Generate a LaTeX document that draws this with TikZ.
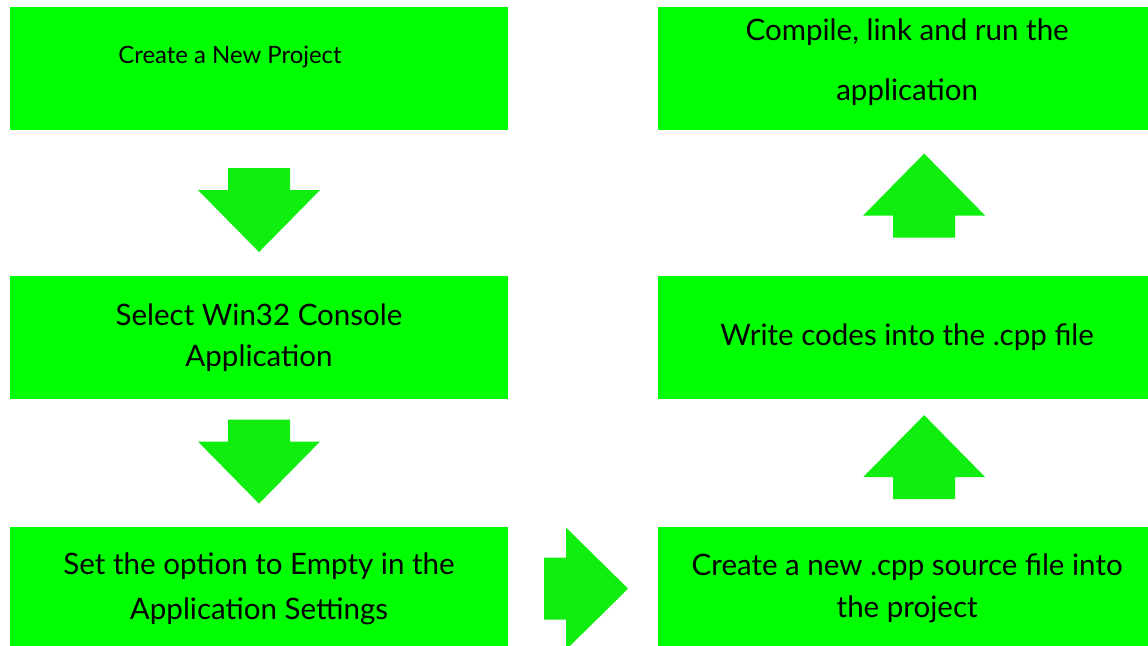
\documentclass[tikz,border=0pt]{standalone}
\usepackage{fontspec}
\setmainfont{Lato}
\usetikzlibrary{positioning, calc}
\definecolor{boxgreen}{RGB}{0,255,0}
\definecolor{arrowgreen}{RGB}{16,238,16}
\tikzset{
    stepbox/.style={rectangle, fill=boxgreen, minimum width=12.45cm, minimum height=3.075cm,
        align=center, font=\fontsize{21}{29}\selectfont}, % green step boxes
    % fat block arrow, pointing right, 84 x 123 units
    fatarrow/.pic={
        \fill[arrowgreen] (-42,-31) -- (-20,-31) -- (-20,-61) -- (42,0)
            -- (-20,61) -- (-20,31) -- (-42,31) -- cycle;
    },
}

\begin{document}
\begin{tikzpicture}[x=0.025cm, y=-0.025cm, on grid]
    \clip (0,0) rectangle (1148,645);

    % left column, top to bottom
    \node[stepbox] (proj) at (259,68.5) {};
    \node[stepbox] (win) [below=6.725cm of proj] {Select Win32 Console\\Application};
    \node[stepbox] (empty) [below=6.275cm of win] {Set the option to Empty in the\\[3pt]Application Settings};
    % right column, bottom to top
    \node[stepbox] (newcpp) [right=16.2cm of empty] {Create a new .cpp source file into\\[1pt]the project};
    \node[stepbox] (codes) [above=6.275cm of newcpp] {Write codes into the .cpp file};
    \node[stepbox, text depth=0.45cm] (run) [above=6.725cm of codes] {Compile, link and run the\\[14pt]application};

    \node[font=\fontsize{17}{20}\selectfont] (projtext) at ($(proj)+(-29,-12)$) {Create a New Project};

    % arrows between the steps
    \pic[rotate=-90] at ($(proj.south)!0.5!(win.north)+(0,7)$) {fatarrow};
    \pic[rotate=-90] at ($(win.south)!0.5!(empty.north)+(0,-1.5)$) {fatarrow};
    \pic at ($(empty.east)!0.5!(newcpp.west)+(3,0)$) {fatarrow};
    \pic[rotate=90] at ($(newcpp.north)!0.5!(codes.south)+(17,-6)$) {fatarrow};
    \pic[rotate=90] at ($(codes.north)!0.5!(run.south)+(17,-7.5)$) {fatarrow};
\end{tikzpicture}
\end{document}
